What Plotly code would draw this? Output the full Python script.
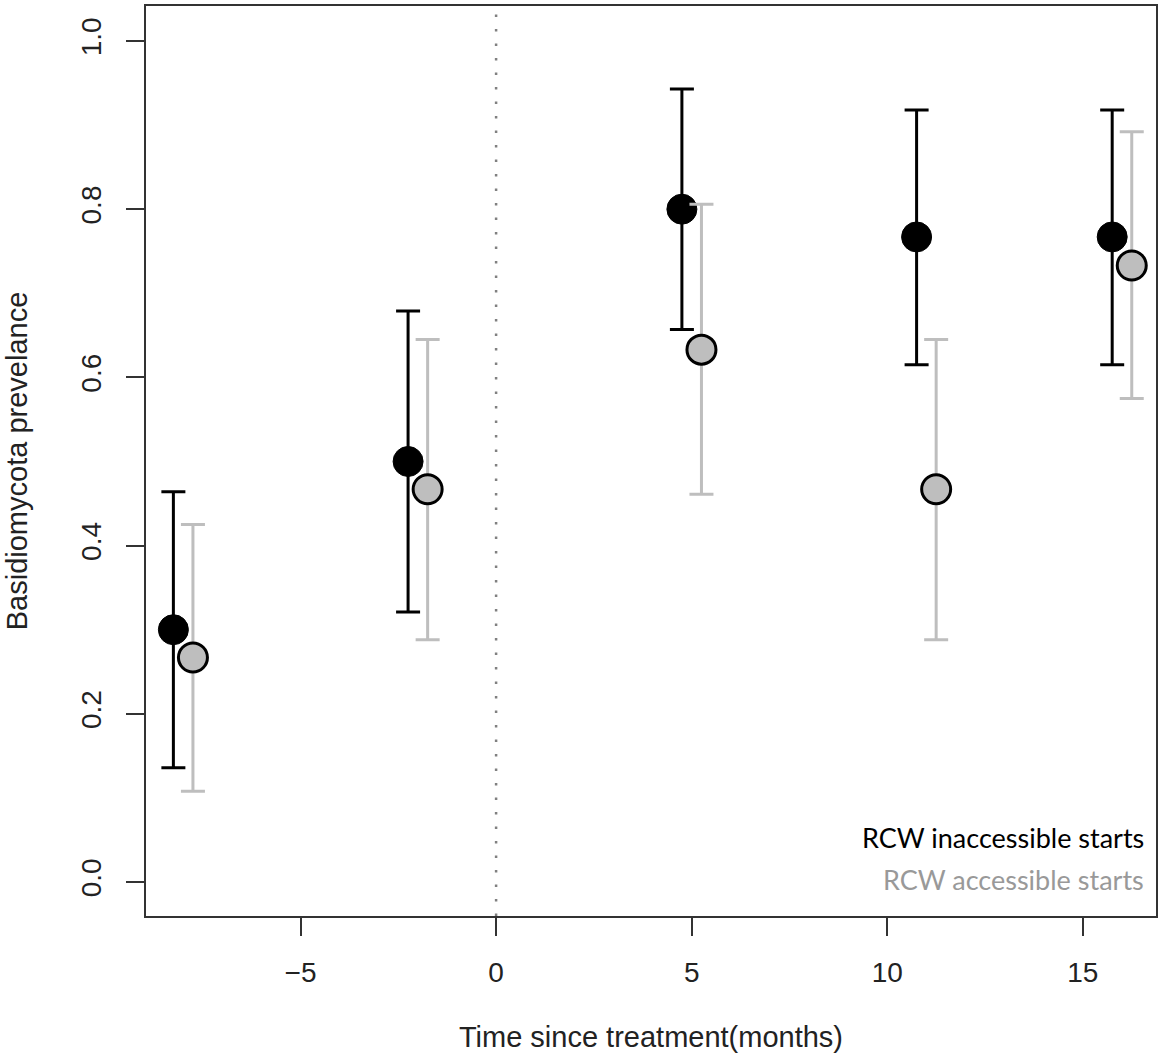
import plotly.graph_objects as go

# Sampling times (months since treatment) for each group
months_inacc = [-8.25, -2.25, 4.75, 10.75, 15.75]
months_acc = [-7.75, -1.75, 5.25, 11.25, 16.25]

# Prevalence estimates with 95% interval bounds
prev_inacc = [0.300, 0.500, 0.800, 0.767, 0.767]
low_inacc = [0.136, 0.321, 0.657, 0.615, 0.615]
high_inacc = [0.464, 0.679, 0.943, 0.918, 0.918]

prev_acc = [0.267, 0.467, 0.633, 0.467, 0.733]
low_acc = [0.108, 0.288, 0.461, 0.288, 0.575]
high_acc = [0.425, 0.645, 0.806, 0.645, 0.892]

x_ticks = [-5, 0, 5, 10, 15]
y_ticks = [0.0, 0.2, 0.4, 0.6, 0.8, 1.0]

legend_labels = ["RCW inaccessible starts", "RCW accessible starts"]

BLACK = "#000000"
GREY = "#bebebe"
FONT = "Liberation Sans, Arial"


def err(vals, lo, hi):
    plus = [h - v for v, h in zip(vals, hi)]
    minus = [v - l for v, l in zip(vals, lo)]
    return plus, minus


fig = go.Figure()

# Treatment time reference line
fig.add_shape(
    type="line", xref="x", yref="paper", x0=0, x1=0, y0=0, y1=1,
    line=dict(color="#808080", width=2.5, dash="2.5px,12px"), layer="below",
)

p, m = err(prev_inacc, low_inacc, high_inacc)
fig.add_trace(go.Scatter(
    x=months_inacc, y=prev_inacc, mode="markers",
    marker=dict(size=30, color=BLACK, line=dict(color=BLACK, width=1)),
    error_y=dict(type="data", symmetric=False, array=p, arrayminus=m,
                 color=BLACK, thickness=3, width=12),
    showlegend=False,
))

p, m = err(prev_acc, low_acc, high_acc)
fig.add_trace(go.Scatter(
    x=months_acc, y=prev_acc, mode="markers",
    marker=dict(size=29, color=GREY, line=dict(color=BLACK, width=3)),
    error_y=dict(type="data", symmetric=False, array=p, arrayminus=m,
                 color=GREY, thickness=3, width=12),
    showlegend=False,
))

# Group labels in the lower right corner
for label, colour, ypos in zip(legend_labels, [BLACK, "#999999"], [0.0868, 0.0396]):
    fig.add_annotation(
        text=label, xref="paper", yref="paper", x=0.99, y=ypos,
        xanchor="right", yanchor="middle", showarrow=False,
        font=dict(family="Lato", size=27, color=colour),
    )

axis_common = dict(
    showgrid=False, zeroline=False, showline=True, mirror=True,
    linecolor="#333333", linewidth=2, ticks="outside", ticklen=18,
    tickwidth=2, tickcolor="#333333",
    tickfont=dict(family=FONT, size=28, color="#222222"),
)

fig.update_xaxes(
    range=[-8.95, 16.87], tickvals=x_ticks,
    ticktext=[f"{t}".replace("-", "\u2212") for t in x_ticks],
    ticklabelstandoff=12,
    title=dict(text="Time since treatment(months)", standoff=40,
               font=dict(family=FONT, size=29, color="#222222")),
    **axis_common,
)
fig.update_yaxes(
    range=[-0.0404, 1.0416], tickvals=y_ticks,
    ticktext=[f"{t:.1f}" for t in y_ticks], tickangle=-90,
    ticklabelstandoff=14,
    title=dict(text="Basidiomycota prevelance", standoff=40,
               font=dict(family=FONT, size=29, color="#222222")),
    **axis_common,
)

fig.update_layout(
    width=1159, height=1061,
    margin=dict(l=146, r=1, t=6, b=145),
    plot_bgcolor="white", paper_bgcolor="white",
)

fig.write_html("out.html")
